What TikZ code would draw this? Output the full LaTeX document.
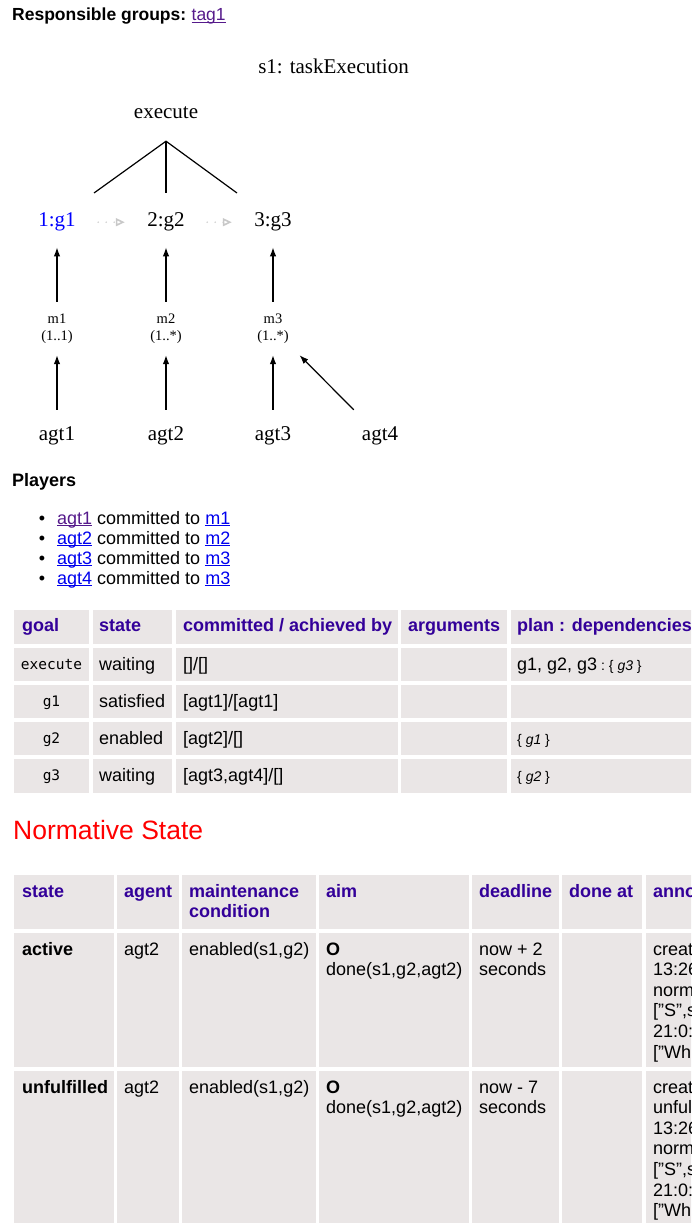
\documentclass[tikz,border=0pt]{standalone}
\usepackage{fontspec}
\setmainfont{Liberation Serif}
\setsansfont{Liberation Sans}
\setmonofont{DejaVu Sans Mono}
\usepackage{xcolor}
\usetikzlibrary{arrows.meta,positioning}
\definecolor{cellbg}{RGB}{234,230,230}
\definecolor{hdblue}{RGB}{51,0,153}
\definecolor{lnkblue}{RGB}{0,0,238}
\definecolor{lnkvisit}{RGB}{85,26,139}
\definecolor{goalblue}{RGB}{0,0,255}
\definecolor{softgray}{RGB}{200,200,200}
\tikzset{
  sans/.style={font=\sffamily\fontsize{18}{20.5}\selectfont, inner sep=0pt,
               anchor=west, text height=13pt, text depth=4pt},
  sansb/.style={sans, font=\sffamily\bfseries\fontsize{18}{20.5}\selectfont},
  head/.style={sansb, text=hdblue},
  mono/.style={font=\ttfamily\fontsize{14.5}{17}\selectfont, inner sep=0pt,
               text height=11pt, text depth=3pt},
  lbl/.style={font=\fontsize{21}{24}\selectfont, inner sep=0pt,
              text height=14pt, text depth=5pt},
  goal/.style={lbl, minimum width=82pt, minimum height=50pt},
  mis/.style={font=\fontsize{14.5}{17}\selectfont, align=center, inner sep=0pt,
              minimum width=60pt, minimum height=53pt},
  agt/.style={lbl, minimum width=60pt, minimum height=52.4pt},
  flow/.style={-{Latex[length=9pt,width=6.5pt]}, line width=1.2pt},
  seq/.style={-{Triangle[open,length=9pt,width=8pt,line cap=butt]}, softgray,
              line width=1.6pt, line cap=round, dash pattern=on 0pt off 8pt},
  tree/.style={line width=1.2pt},
}
\newcommand{\lnkul}[2]{\setbox0\hbox{{\color{#1}#2}}%
  {\color{#1}\rlap{\rule[-2.4pt]{\wd0}{1.1pt}}}\box0\relax}
\newcommand{\depsz}{\fontsize{14}{16}\selectfont}

\begin{document}
\begin{tikzpicture}[x=1pt,y=-1pt]
  \useasboundingbox (0,0) rectangle (691,1223);
  \clip (0,0) rectangle (691,1223);

  % responsible groups
  \node[sansb, font=\sffamily\bfseries\fontsize{17.5}{20}\selectfont] (resp) at (12,16.5) {Responsible groups:};
  \node[sans, font=\sffamily\fontsize{17.5}{20}\selectfont, right=5pt of resp] (tag) {\lnkul{lnkvisit}{tag1}};

  % scheme graph
  \node[lbl] (title) at (333.5,69.5) {s1: taskExecution};
  \node[lbl, minimum height=54.4pt] (exec) at (166,113.8) {execute};
  \node[goal, text=goalblue] (g1) at (57,222.2) {1:g1};
  \node[goal] (g2) at (166,222.2) {2:g2};
  \node[goal] (g3) at (273,222.2) {3:g3};
  \coordinate (t1) at (94,193);
  \coordinate (t2) at (166,193);
  \coordinate (t3) at (237,193);
  \draw[tree] (t1) -- (exec.south) -- (t3);
  \draw[tree] (exec.south) -- (t2);
  \draw[seq] (g1) -- (g2);
  \draw[seq] (g2) -- (g3);

  \node[mis] (m1) at (57,328.5) {m1\\(1..1)};
  \node[mis] (m2) at (166,328.5) {m2\\(1..*)};
  \node[mis] (m3) at (273,328.5) {m3\\(1..*)};
  \node[agt] (a1) at (57,436.2) {agt1};
  \node[agt] (a2) at (166,436.2) {agt2};
  \node[agt] (a3) at (273,436.2) {agt3};
  \node[agt] (a4) at (380,436.2) {agt4};
  \draw[flow] (m1) -- (g1);
  \draw[flow] (m2) -- (g2);
  \draw[flow] (m3) -- (g3);
  \draw[flow] (a1) -- (m1);
  \draw[flow] (a2) -- (m2);
  \draw[flow] (a3) -- (m3);
  \draw[flow] (a4) -- (m3);

  % players
  \node[sansb] (players) at (12,481.5) {Players};
  \foreach \a/\m/\c [count=\i] in {agt1/m1/lnkvisit,agt2/m2/lnkblue,agt3/m3/lnkblue,agt4/m3/lnkblue} {
    \node[sans, anchor=center] (bul\i) at (42,499.5+20*\i) {\textbullet};
    \node[sans] (ply\i) at (57,499.5+20*\i) {\lnkul{\c}{\a} committed to \lnkul{lnkblue}{\m}};
  }

  % goals table
  \foreach \xa/\xb in {14/89,93/172,176/398,401/507,511/700}
    \foreach \ya/\yb in {610/644,648/681,685/718,722/755,759/793}
      \fill[cellbg] (\xa,\ya) rectangle (\xb,\yb);
  \node[head] (hgoal) at (22,627) {goal};
  \node[head] (hstate) at (99,627) {state};
  \node[head] (hcomm) at (183,627) {committed / achieved by};
  \node[head] (hargs) at (408,627) {arguments};
  \node[head] (hplan) at (517,627) {plan : dependencies};

  \node[mono] (gexec) at (51.5,665.5) {execute};
  \node[sans] (sexec) at (99,665.5) {waiting};
  \node[sans] (cexec) at (183,665.5) {[]/[]};
  \node[sans] (pexec) at (517,665.5) {g1, g2, g3{\depsz\ :\ \{\ \textit{g3}\ \}}};

  \node[mono] (gg1) at (51.5,702.5) {g1};
  \node[sans] (sg1) at (99,702.5) {satisfied};
  \node[sans] (cg1) at (183,702.5) {[agt1]/[agt1]};

  \node[mono] (gg2) at (51.5,739.5) {g2};
  \node[sans] (sg2) at (99,739.5) {enabled};
  \node[sans] (cg2) at (183,739.5) {[agt2]/[]};
  \node[sans] (pg2) at (517,739.5) {\depsz\{\ \textit{g1}\ \}};

  \node[mono] (gg3) at (51.5,776.5) {g3};
  \node[sans] (sg3) at (99,776.5) {waiting};
  \node[sans] (cg3) at (183,776.5) {[agt3,agt4]/[]};
  \node[sans] (pg3) at (517,776.5) {\depsz\{\ \textit{g2}\ \}};

  % normative state
  \node[sans, font=\sffamily\fontsize{26.5}{30}\selectfont, text=red,
        text height=19pt, text depth=6pt] (norm) at (13,833) {Normative State};

  \foreach \xa/\xb in {14/114,117/179,182/316,319/469,472/559,562/642,646/700}
    \foreach \ya/\yb in {875/929,933/1067,1071/1240}
      \fill[cellbg] (\xa,\ya) rectangle (\xb,\yb);
  \node[head] (nstate) at (22,892.7) {state};
  \node[head] (nagent) at (124,892.7) {agent};
  \node[head] (nmaint) at (189,892.7) {maintenance};
  \node[head] (ncond) at (189,912.8) {condition};
  \node[head] (naim) at (326,892.7) {aim};
  \node[head] (ndead) at (479,892.7) {deadline};
  \node[head] (ndone) at (569,892.7) {done at};
  \node[head] (nanno) at (653,892.7) {anno};

  % row: active
  \node[sansb] (r1state) at (22,950.5) {active};
  \node[sans] (r1agent) at (124,950.5) {agt2};
  \node[sans] (r1maint) at (189,950.5) {enabled(s1,g2)};
  \node[sansb] (r1op) at (326,950.5) {O};
  \node[sans] (r1aim) at (326,971) {done(s1,g2,agt2)};
  \node[sans] (r1dl) at (479,950.5) {now + 2};
  \node[sans] (r1dls) at (479,971) {seconds};
  \foreach \t [count=\i from 0] in {creat,13:26,norm,{["S",s},21:0:,{["Wh}}
    \node[sans] (r1ann\i) at (653,950.5+20.6*\i) {\t};

  % row: unfulfilled
  \node[sansb] (r2state) at (22,1088.5) {unfulfilled};
  \node[sans] (r2agent) at (124,1088.5) {agt2};
  \node[sans] (r2maint) at (189,1088.5) {enabled(s1,g2)};
  \node[sansb] (r2op) at (326,1088.5) {O};
  \node[sans] (r2aim) at (326,1109) {done(s1,g2,agt2)};
  \node[sans] (r2dl) at (479,1088.5) {now - 7};
  \node[sans] (r2dls) at (479,1109) {seconds};
  \foreach \t [count=\i from 0] in {creat,unful,13:26,norm,{["S",s},21:0:,{["Wh}}
    \node[sans] (r2ann\i) at (653,1088.5+20.6*\i) {\t};
\end{tikzpicture}
\end{document}
